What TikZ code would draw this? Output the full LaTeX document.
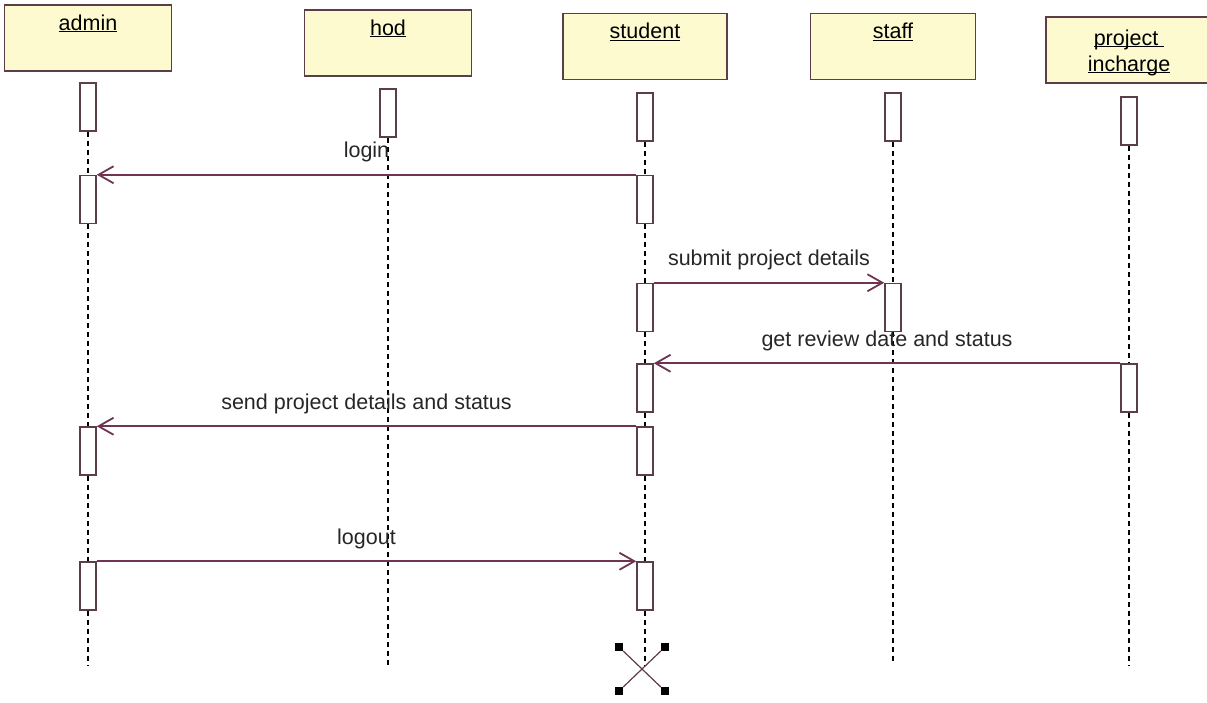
\documentclass[tikz,border=0pt]{standalone}
\usepackage{fontspec}
\setmainfont{Liberation Sans}
\usetikzlibrary{arrows.meta}
\definecolor{headfill}{RGB}{252,250,206}
\definecolor{boxline}{RGB}{92,62,72}
\definecolor{msgline}{RGB}{112,52,82}
\newcommand{\ulname}[1]{\underline{\raisebox{0pt}[\height][0pt]{#1}}}
\tikzset{
    head/.style={draw=boxline, line width=1.6pt, fill=headfill, minimum width=167pt, minimum height=66pt,
        inner sep=0pt, text height=16pt, text depth=32pt, font=\fontsize{21.5}{26}\selectfont},
    act/.style={draw=boxline, line width=1.5pt, fill=white, minimum width=16pt, minimum height=48pt, inner sep=0pt},
    life/.style={line width=1.3pt, dash pattern=on 5pt off 4pt},
    msg/.style={draw=msgline, line width=1.8pt, -{Straight Barb[length=15pt,width=17pt]}},
    msglabel/.style={anchor=base, yshift=17pt, text=black!85, font=\fontsize{21.5}{26}\selectfont},
    xend/.style={fill=black, minimum size=8pt, inner sep=0pt}
}
\begin{document}
\begin{tikzpicture}[x=1pt, y=-1pt]
        \useasboundingbox (0,0) rectangle (1207,702);
        % objects
        \node[head] (admin) at (88,38) {\ulname{admin}};
        \node[head] (hod) at (388,43) {\ulname{hod}};
        \node[head, minimum width=164pt] (student) at (645,46.5) {\ulname{student}};
        \node[head, minimum width=165pt] (staff) at (893,46.5) {\ulname{staff}};
        \node[head, minimum width=166pt, text height=19pt, text depth=29pt] (incharge) at (1129,50)
            {\begin{tabular}[t]{@{}c@{}}\ulname{project\ }\\\ulname{incharge}\end{tabular}};
        % activations
        \foreach \n/\y in {A/107,B/199.5,C/451,D/586}
            \node[act] (adm\n) at (88,\y) {};
        \node[act] (hodA) at (388,113) {};
        \foreach \n/\y in {A/117,B/199.5,C/307.5,D/388,E/451,F/586}
            \node[act] (stu\n) at (645,\y) {};
        \foreach \n/\y in {A/117,B/307.5}
            \node[act] (stf\n) at (893,\y) {};
        \foreach \n/\y in {A/121,B/388}
            \node[act] (inc\n) at (1129,\y) {};
        % lifelines
        \coordinate (admEnd) at (88,665);
        \coordinate (hodEnd) at (388,665);
        \coordinate (stuEnd) at (645,665);
        \coordinate (stfEnd) at (893,665);
        \coordinate (incEnd) at (1129,665);
        \foreach \a/\b in {admA/admB,admB/admC,admC/admD,stuA/stuB,stuB/stuC,stuC/stuD,stuD/stuE,stuE/stuF,stfA/stfB,incA/incB}
            \draw[life] (\a.south) -- (\b.north);
        \foreach \a/\b in {admD/admEnd,hodA/hodEnd,stuF/stuEnd,stfB/stfEnd,incB/incEnd}
            \draw[life] (\a.south) -- (\b);
        % messages
        \draw[msg] (stuB.north west) -- node[msglabel]{login} (admB.north east);
        \draw[msg] (stuC.north east) -- node[msglabel]{submit project details} (stfB.north west);
        \draw[msg] (incB.north west) -- node[msglabel]{get review date and status} (stuD.north east);
        \draw[msg] (stuE.north west) -- node[msglabel]{send project details and status} (admC.north east);
        \draw[msg] (admD.north east) -- node[msglabel]{logout} (stuF.north west);
        % destroy
        \foreach \n/\x/\y in {xa/619/647,xb/665/647,xc/619/691,xd/665/691}
            \node[xend] (\n) at (\x,\y) {};
        \draw[line width=1.2pt, boxline] (xa) -- (xd) (xb) -- (xc);
\end{tikzpicture}
\end{document}
